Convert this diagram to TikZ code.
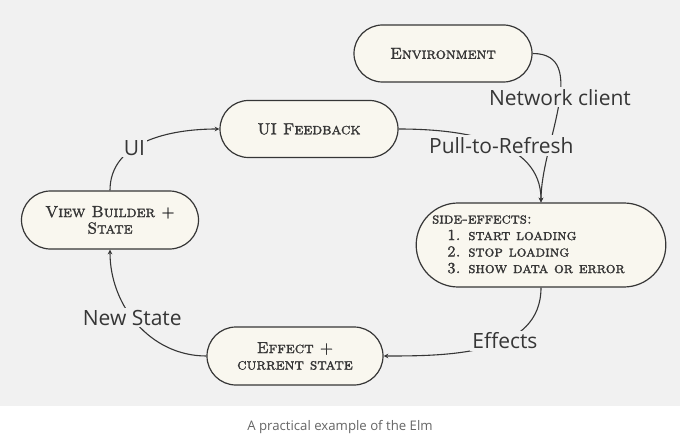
\documentclass[tikz,border=0pt]{standalone}
\usepackage{fontspec}
\newfontfamily\labelfont{Open Sans}
\newfontfamily\boxfont{lmromancaps10-regular.otf}[RawFeature={embolden=1.6}]
\usetikzlibrary{shapes.misc}
\definecolor{paper}{HTML}{F1F1F1}
\definecolor{cream}{HTML}{F9F7EF}
\definecolor{ink}{HTML}{363636}
\definecolor{caption}{HTML}{666666}
\tikzset{
	box/.style={rounded rectangle,draw=ink,fill=cream,line width=1.2pt,minimum height=57pt,text=ink,align=center,inner sep=0pt,font=\boxfont\fontsize{16}{16.5}\selectfont},
	flow/.style={-stealth,draw=ink,line width=1.1pt},
	tag/.style={fill=paper,text=ink,inner sep=2pt,font=\labelfont\fontsize{21}{24}\selectfont},
}

\begin{document}
\begin{tikzpicture}[x=1pt,y=1pt]
					\fill[white] (0,0) rectangle (680,436);
					\fill[paper] (0,30) rectangle (680,436);

					\node[box,minimum width=178pt] (env) at (443,382.5) {Environment};
					\node[box,minimum width=178pt] (uifb) at (309,307) {UI Feedback};
					\node[box,minimum width=177pt,minimum height=58pt] (view) at (110,216) {View Builder +\\ State};
					\node[box,minimum width=238pt,minimum height=84pt,font=\boxfont\fontsize{15.4}{16.5}\selectfont] (side) at (541,191) {\begin{tabular}{@{}l@{\hspace{25pt}}}side-effects:\\ \hspace*{15pt}1. start loading\\ \hspace*{15pt}2. stop loading\\ \hspace*{15pt}3. show data or error\end{tabular}};
					\node[box,minimum width=176pt,minimum height=58pt] (eff) at (295,80) {Effect +\\ current state};

					\draw[flow] (env.east) to[out=0,in=90] node[tag,pos=0.45] {Network client} (side.north);
					\draw[flow] (uifb.east) to[out=0,in=90] node[tag,pos=0.55] {Pull-to-Refresh} (side.north);
					\draw[flow] (view.north) to[out=90,in=180] node[tag,pos=0.4] {UI} (uifb.west);
					\draw[flow] (side.south) to[out=-90,in=0] node[tag,pos=0.4] {Effects} (eff.east);
					\draw[flow] (eff.west) to[out=180,in=-90] node[tag,pos=0.55] {New State} (view.south);

					\node[text=caption,font=\labelfont\fontsize{13.2}{15}\selectfont] (cap) at (340,9) {A practical example of the Elm};
				\end{tikzpicture}
\end{document}
